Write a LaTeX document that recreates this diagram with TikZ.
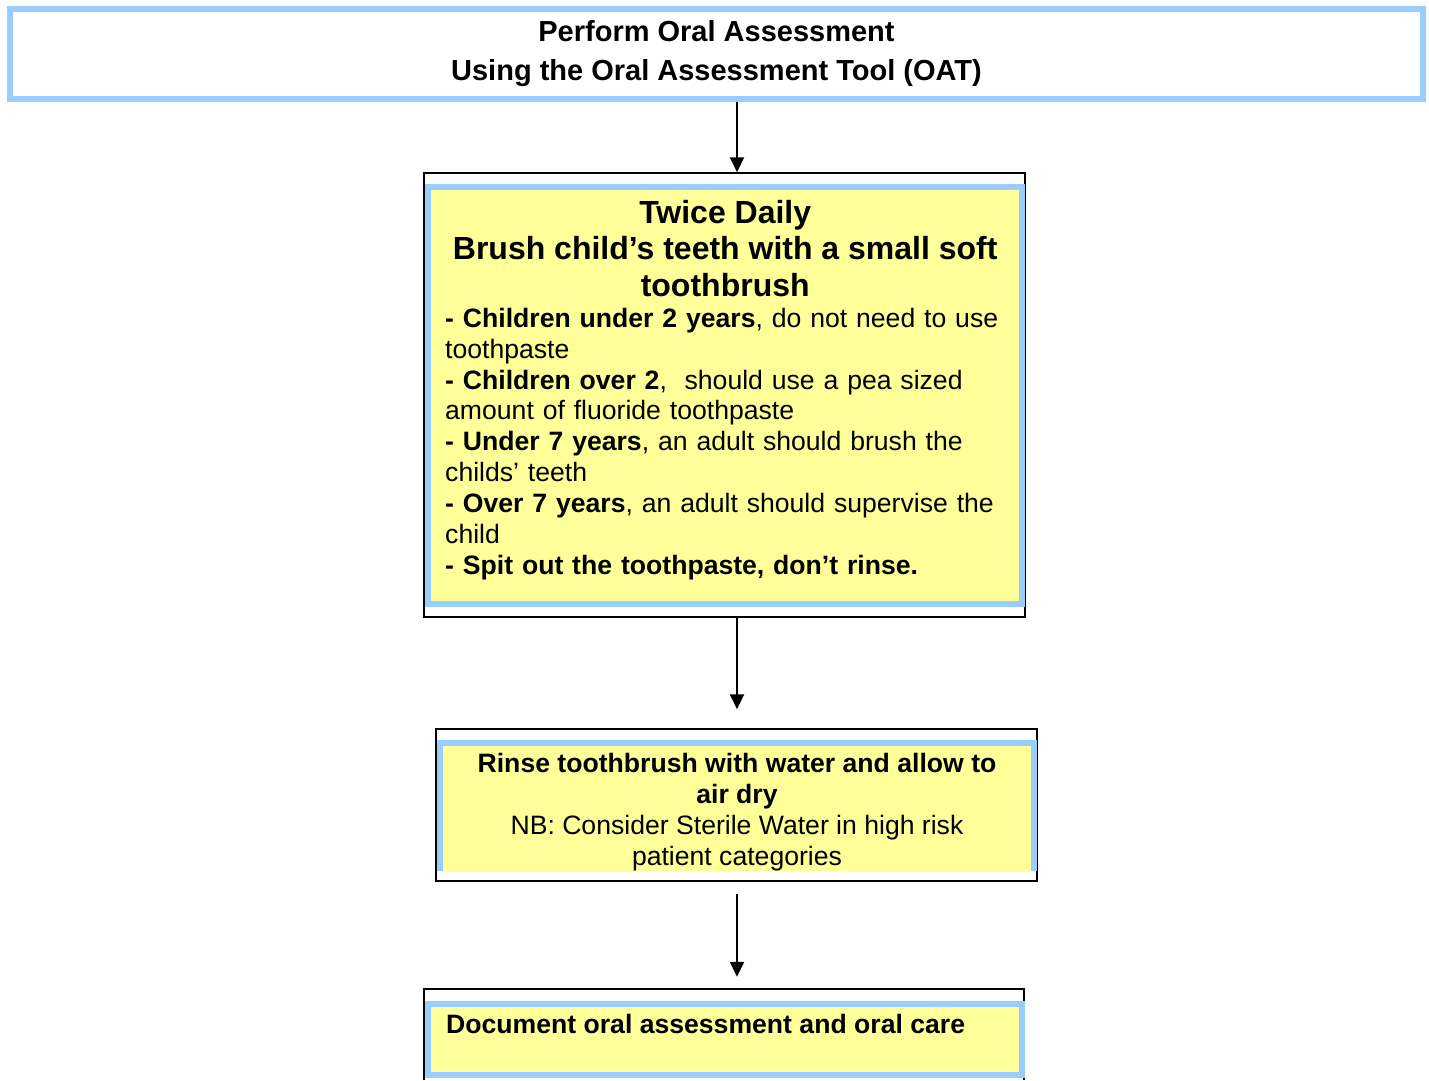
\documentclass[tikz,border=0pt]{standalone}
\usepackage{fontspec}
\setmainfont{Liberation Sans}
\usetikzlibrary{arrows.meta}
\definecolor{skyblue}{HTML}{99CCFF}
\definecolor{paleyellow}{HTML}{FFFF99}
\newcommand\headsize{\fontsize{29}{39}\selectfont}
\newcommand\titlesize{\fontsize{32}{36.5}\selectfont}
\newcommand\bodysize{\fontsize{26.6}{30.9}\selectfont}
\setlength\parskip{0pt}

\begin{document}
\begin{tikzpicture}
    [x=1pt, y=-1pt,
    headbox/.style={draw=skyblue, line width=6pt, inner sep=0pt, align=center, font=\headsize\bfseries},
    stepframe/.style={draw=black, line width=1.5pt, minimum width=601pt, inner sep=0pt},
    stepbox/.style={draw=skyblue, fill=paleyellow, line width=6pt, minimum width=594pt, inner sep=0pt},
    steptext/.style={inner sep=0pt, font=\bodysize},
    flow/.style={-{Triangle[length=15pt, width=14pt]}, line width=2pt}
    ]
    \useasboundingbox (0,0) rectangle (1429,1080);
    \coordinate (ax) at (737,0);

    % assessment
    \node [headbox, minimum width=1413pt, minimum height=90pt] (assess) at (716.5,54)
        {Perform Oral Assessment\\Using the Oral Assessment Tool (OAT)};

    % brushing
    \node [stepframe, minimum height=444pt] (brushframe) at (724.5,395) {};
    \node [stepbox, minimum height=417pt] (brush) at (725,395.5) {};
    \node [steptext, text width=560pt, align=left, anchor=north west] (brushtext) at (445,200)
        {{\titlesize\bfseries\centering Twice Daily\\Brush child’s teeth with a small soft\\toothbrush\par}
        \leftskip=0pt \rightskip=0pt plus 1fil \parfillskip=0pt plus 1fil
        \textbf{- Children under 2 years}, do not need to use\\
        toothpaste\\
        \textbf{- Children over 2},\ \ should use a pea sized\\
        amount of fluoride toothpaste\\
        \textbf{- Under 7 years}, an adult should brush the\\
        childs’ teeth\\
        \textbf{- Over 7 years}, an adult should supervise the\\
        child\\
        \textbf{- Spit out the toothpaste, don’t rinse.}};

    % rinsing
    \node [stepframe, minimum height=152pt] (rinseframe) at (736.5,805) {};
    \node [fill=paleyellow, minimum width=593pt, minimum height=128pt, inner sep=0pt] (rinse) at (737,807) {};
    \draw [skyblue, line width=6pt] (rinse.south west) -- (rinse.north west) -- (rinse.north east) -- (rinse.south east);
    \node [steptext, align=center, anchor=north] (rinsetext) at (737,753)
        {\textbf{Rinse toothbrush with water and allow to}\\\textbf{air dry}\\
        NB: Consider Sterile Water in high risk\\patient categories};

    % documenting
    \node [minimum width=600pt, minimum height=91pt, inner sep=0pt] (docframe) at (724,1034.5) {};
    \draw [black, line width=1.5pt] (docframe.south west) -- (docframe.north west) -- (docframe.north east) -- (docframe.south east);
    \node [stepbox, minimum height=71pt] (doc) at (725,1039.5) {};
    \node [steptext, font=\bodysize\bfseries, anchor=base west] (doctext) at (446,1033)
        {Document oral assessment and oral care};

    % arrows
    \draw [flow] (assess.south -| ax) -- (brushframe.north -| ax);
    \draw [flow, shorten >=19pt] (brushframe.south -| ax) -- (rinseframe.north -| ax);
    \draw [flow, shorten <=12pt, shorten >=12pt] (rinseframe.south -| ax) -- (docframe.north -| ax);
\end{tikzpicture}
\end{document}
